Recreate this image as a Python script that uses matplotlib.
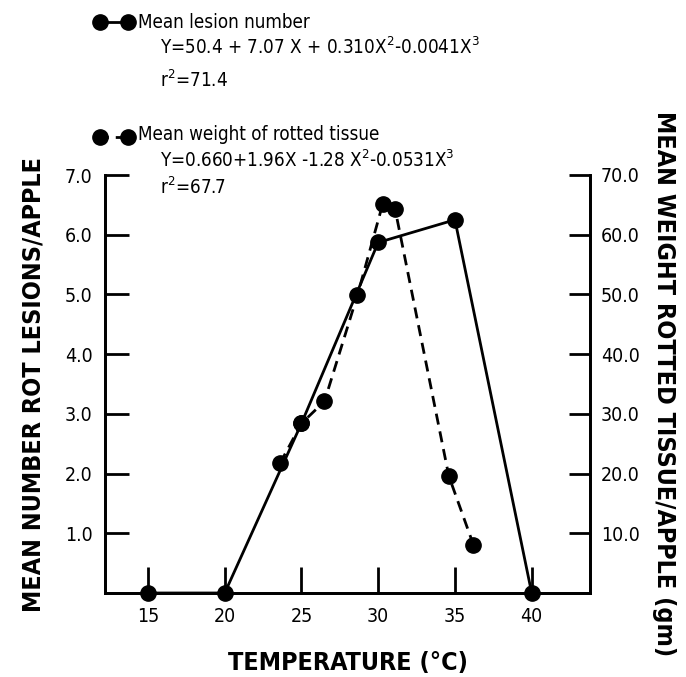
import matplotlib.pyplot as plt
from matplotlib.lines import Line2D

plt.switch_backend('Agg')
plt.rcParams['font.family'] = 'DejaVu Sans'
plt.rcParams['font.stretch'] = 'condensed'
plt.rcParams['mathtext.fontset'] = 'dejavusans'

# Mean lesion number (left axis)
lesion_temp = [15, 20, 25, 30, 35, 40]
lesion_num = [0.0, 0.0, 2.84, 5.87, 6.25, 0.0]

# Mean weight of rotted tissue (right axis, gm)
weight_temp = [23.6, 25.0, 26.5, 28.65, 30.3, 31.1, 34.6, 36.2]
weight_gm = [21.7, 28.4, 32.1, 49.9, 65.2, 64.3, 19.6, 8.1]

x_ticks = [15, 20, 25, 30, 35, 40]
left_ticks = [1.0, 2.0, 3.0, 4.0, 5.0, 6.0, 7.0]
right_ticks = [10.0, 20.0, 30.0, 40.0, 50.0, 60.0, 70.0]

fig = plt.figure(figsize=(6.86, 6.77), dpi=100)
ax = fig.add_axes([105 / 686, 1 - 593 / 677, 485 / 686, 418 / 677])
ax2 = ax.twinx()

ax.plot(lesion_temp, lesion_num, '-', color='black', lw=2,
        marker='o', ms=11, clip_on=False, zorder=3)
ax2.plot(weight_temp, weight_gm, '--', color='black', lw=2, dashes=(4, 2.5),
         marker='o', ms=11, clip_on=False, zorder=3)

ax.set_xlim(12.2, 43.8)
ax.set_ylim(0, 7.0)
ax2.set_ylim(0, 70.0)

for a in (ax, ax2):
    a.spines['top'].set_visible(False)
    for s in a.spines.values():
        s.set_linewidth(2)

ax.set_xticks(x_ticks)
ax.set_xticklabels([str(t) for t in x_ticks])
ax.set_yticks(left_ticks)
ax.set_yticklabels([f"{v:.1f}" for v in left_ticks])
ax2.set_yticks(right_ticks)
ax2.set_yticklabels([f"{v:.1f}" for v in right_ticks])

ax.tick_params(axis='x', direction='in', length=19, width=2, pad=10, labelsize=14)
ax.tick_params(axis='y', direction='in', length=17, width=2, pad=9, labelsize=14)
ax2.tick_params(axis='y', direction='in', length=15, width=2, pad=8, labelsize=14)

ax.set_xlabel('TEMPERATURE (°C)', fontsize=18, fontweight='bold', labelpad=18)
ax.set_ylabel('MEAN NUMBER ROT LESIONS/APPLE', fontsize=18, fontweight='bold', labelpad=14)
ax2.set_ylabel('MEAN WEIGHT ROTTED TISSUE/APPLE (gm)', fontsize=18, fontweight='bold',
               rotation=-90, labelpad=26)

# hand-made key at the top
W, H = 686, 677
def fx(px):
    return px / W
def fy(py):
    return 1 - py / H

fig.add_artist(Line2D([fx(100), fx(128)], [fy(22), fy(22)], color='black', lw=2,
                      marker='o', ms=11, transform=fig.transFigure))
fig.add_artist(Line2D([fx(100), fx(128)], [fy(137), fy(137)], color='black', lw=2,
                      ls='--', dashes=(3, 2.5), marker='o', ms=11, transform=fig.transFigure))

fs = 13.5
fig.text(fx(138), fy(22), 'Mean lesion number', fontsize=fs, va='center')
fig.text(fx(160), fy(47), r'Y=50.4 + 7.07 X + 0.310X$^2$-0.0041X$^3$', fontsize=fs, va='center')
fig.text(fx(160), fy(80), r'r$^2$=71.4', fontsize=fs, va='center')
fig.text(fx(138), fy(135), 'Mean weight of rotted tissue', fontsize=fs, va='center')
fig.text(fx(160), fy(160), r'Y=0.660+1.96X -1.28 X$^2$-0.0531X$^3$', fontsize=fs, va='center')
fig.text(fx(160), fy(187), r'r$^2$=67.7', fontsize=fs, va='center')

fig.savefig('out.png', dpi=100, facecolor='white')
plt.close(fig)
